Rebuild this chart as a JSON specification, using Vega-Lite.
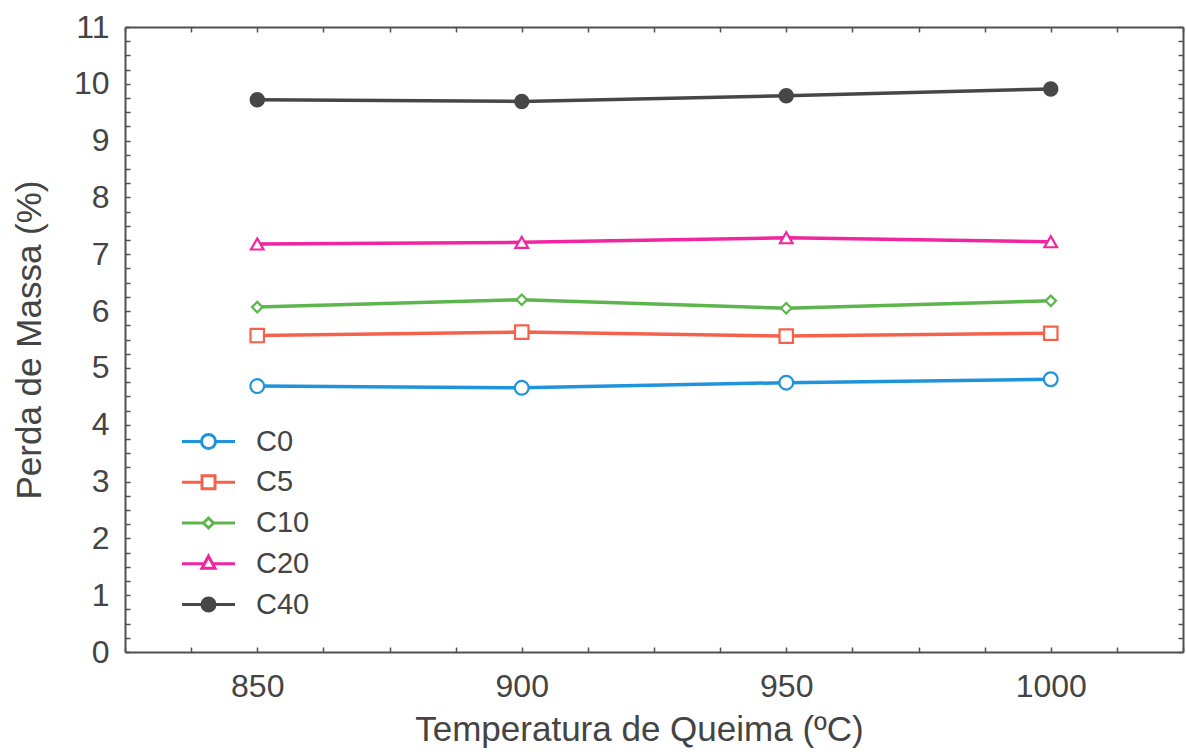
{
  "$schema": "https://vega.github.io/schema/vega-lite/v6.json",
  "autosize": "none",
  "width": 1058,
  "height": 625,
  "padding": {"left": 125, "top": 27, "right": 3, "bottom": 103},
  "background": "white",
  "config": {
    "view": {"stroke": null},
    "font": "Liberation Sans",
    "axis": {
      "grid": false,
      "domainColor": "#505050",
      "domainWidth": 2,
      "tickColor": "#505050",
      "tickWidth": 1.5,
      "tickSize": -5,
      "labelFont": "Liberation Sans",
      "labelFontSize": 32,
      "labelColor": "#444444",
      "titleFont": "Liberation Sans",
      "titleFontSize": 35,
      "titleFontWeight": "normal",
      "titleColor": "#444444"
    }
  },
  "datasets": {
    "perda": [
      {"temp": 850, "serie": "C0", "perda": 4.68},
      {"temp": 900, "serie": "C0", "perda": 4.65},
      {"temp": 950, "serie": "C0", "perda": 4.74},
      {"temp": 1000, "serie": "C0", "perda": 4.80},
      {"temp": 850, "serie": "C5", "perda": 5.57},
      {"temp": 900, "serie": "C5", "perda": 5.63},
      {"temp": 950, "serie": "C5", "perda": 5.56},
      {"temp": 1000, "serie": "C5", "perda": 5.61},
      {"temp": 850, "serie": "C10", "perda": 6.07},
      {"temp": 900, "serie": "C10", "perda": 6.20},
      {"temp": 950, "serie": "C10", "perda": 6.05},
      {"temp": 1000, "serie": "C10", "perda": 6.18},
      {"temp": 850, "serie": "C20", "perda": 7.18},
      {"temp": 900, "serie": "C20", "perda": 7.21},
      {"temp": 950, "serie": "C20", "perda": 7.29},
      {"temp": 1000, "serie": "C20", "perda": 7.22},
      {"temp": 850, "serie": "C40", "perda": 9.72},
      {"temp": 900, "serie": "C40", "perda": 9.69},
      {"temp": 950, "serie": "C40", "perda": 9.79},
      {"temp": 1000, "serie": "C40", "perda": 9.91}
    ]
  },
  "data": {"name": "perda"},
  "layer": [
    {
      "mark": {"type": "line", "strokeWidth": 3.5},
      "encoding": {
        "x": {
          "field": "temp", "type": "quantitative",
          "scale": {"domain": [825, 1025], "nice": false, "zero": false},
          "axis": {
            "orient": "bottom",
            "title": "Temperatura de Queima (ºC)",
            "titleX": 514,
            "values": [825, 837.5, 850, 862.5, 875, 887.5, 900, 912.5, 925, 937.5, 950, 962.5, 975, 987.5, 1000, 1012.5, 1025],
            "labelExpr": "datum.value % 50 == 0 ? format(datum.value, 'd') : ''",
            "labelPadding": 24,
            "labelFlush": false,
            "titlePadding": 10
          }
        },
        "y": {
          "field": "perda", "type": "quantitative",
          "scale": {"domain": [0, 11], "nice": false},
          "axis": {
            "orient": "left",
            "title": "Perda de Massa (%)",
            "values": [0, 0.25, 0.5, 0.75, 1, 1.25, 1.5, 1.75, 2, 2.25, 2.5, 2.75, 3, 3.25, 3.5, 3.75, 4, 4.25, 4.5, 4.75, 5, 5.25, 5.5, 5.75, 6, 6.25, 6.5, 6.75, 7, 7.25, 7.5, 7.75, 8, 8.25, 8.5, 8.75, 9, 9.25, 9.5, 9.75, 10, 10.25, 10.5, 10.75, 11],
            "labelExpr": "datum.value % 1 == 0 ? format(datum.value, 'd') : ''",
            "labelPadding": 21,
            "labelFlush": false,
            "titlePadding": 26
          }
        },
        "stroke": {
          "field": "serie", "type": "nominal",
          "scale": {
            "domain": ["C0", "C5", "C10", "C20", "C40"],
            "range": ["#1f94dc", "#f5624c", "#5db54d", "#f0259f", "#474747"]
          },
          "legend": {
            "orient": "none",
            "legendX": 69,
            "legendY": 400,
            "title": null,
            "padding": 0,
            "symbolSize": 400,
            "symbolStrokeWidth": 3,
            "labelFont": "Liberation Sans",
            "labelFontSize": 29,
            "labelColor": "#444444",
            "labelOffset": 33,
            "rowPadding": 10.75,
            "encode": {
              "symbols": {
                "update": {
                  "shape": {"signal": "datum.value === 'C0' ? 'M-2.65,0H-0.7M0.7,0H2.65M0.7,0A0.7,0.7 0 1,1 -0.7,0A0.7,0.7 0 1,1 0.7,0Z' : datum.value === 'C5' ? 'M-2.65,0H-0.65M0.65,0H2.65M-0.65,-0.65H0.65V0.65H-0.65Z' : datum.value === 'C10' ? 'M-2.65,0H-0.5M0.5,0H2.65M0,-0.5L0.5,0L0,0.5L-0.5,0Z' : datum.value === 'C20' ? 'M-2.65,0H-0.4M0.4,0H2.65M0,-0.75L0.65,0.45L-0.65,0.45Z' : 'M-2.65,0H2.65M0.65,0A0.65,0.65 0 1,1 -0.65,0A0.65,0.65 0 1,1 0.65,0Z'"},
                  "fill": {"signal": "datum.value === 'C40' ? '#474747' : '#ffffff'"},
                  "fillOpacity": {"value": 1},
                  "opacity": {"value": 1}
                }
              }
            }
          }
        }
      }
    },
    {
      "transform": [{"filter": "datum.serie === 'C0'"}],
      "mark": {"type": "point", "shape": "circle", "size": 190, "filled": true, "fill": "#ffffff", "strokeWidth": 2.2, "opacity": 1},
      "encoding": {
        "x": {
          "field": "temp", "type": "quantitative",
          "axis": {
            "orient": "top", "title": null, "labels": false,
            "values": [825, 837.5, 850, 862.5, 875, 887.5, 900, 912.5, 925, 937.5, 950, 962.5, 975, 987.5, 1000, 1012.5, 1025]
          }
        },
        "y": {
          "field": "perda", "type": "quantitative",
          "axis": {
            "orient": "right", "title": null, "labels": false,
            "values": [0, 0.25, 0.5, 0.75, 1, 1.25, 1.5, 1.75, 2, 2.25, 2.5, 2.75, 3, 3.25, 3.5, 3.75, 4, 4.25, 4.5, 4.75, 5, 5.25, 5.5, 5.75, 6, 6.25, 6.5, 6.75, 7, 7.25, 7.5, 7.75, 8, 8.25, 8.5, 8.75, 9, 9.25, 9.5, 9.75, 10, 10.25, 10.5, 10.75, 11]
          }
        },
        "stroke": {"field": "serie", "type": "nominal", "legend": null}
      }
    },
    {
      "transform": [{"filter": "datum.serie === 'C5'"}],
      "mark": {"type": "point", "shape": "square", "size": 180, "filled": true, "fill": "#ffffff", "strokeWidth": 2.2, "opacity": 1},
      "encoding": {
        "x": {"field": "temp", "type": "quantitative", "axis": null},
        "y": {"field": "perda", "type": "quantitative", "axis": null},
        "stroke": {"field": "serie", "type": "nominal", "legend": null}
      }
    },
    {
      "transform": [{"filter": "datum.serie === 'C10'"}],
      "mark": {"type": "point", "shape": "diamond", "size": 110, "filled": true, "fill": "#ffffff", "strokeWidth": 2.2, "opacity": 1},
      "encoding": {
        "x": {"field": "temp", "type": "quantitative", "axis": null},
        "y": {"field": "perda", "type": "quantitative", "axis": null},
        "stroke": {"field": "serie", "type": "nominal", "legend": null}
      }
    },
    {
      "transform": [{"filter": "datum.serie === 'C20'"}],
      "mark": {"type": "point", "shape": "triangle-up", "size": 160, "filled": true, "fill": "#ffffff", "strokeWidth": 2.2, "opacity": 1},
      "encoding": {
        "x": {"field": "temp", "type": "quantitative", "axis": null},
        "y": {"field": "perda", "type": "quantitative", "axis": null},
        "stroke": {"field": "serie", "type": "nominal", "legend": null}
      }
    },
    {
      "transform": [{"filter": "datum.serie === 'C40'"}],
      "mark": {"type": "point", "shape": "circle", "size": 180, "filled": true, "fill": "#474747", "strokeWidth": 2, "opacity": 1},
      "encoding": {
        "x": {"field": "temp", "type": "quantitative", "axis": null},
        "y": {"field": "perda", "type": "quantitative", "axis": null},
        "stroke": {"field": "serie", "type": "nominal", "legend": null}
      }
    }
  ],
  "resolve": {"axis": {"x": "independent", "y": "independent"}}
}
